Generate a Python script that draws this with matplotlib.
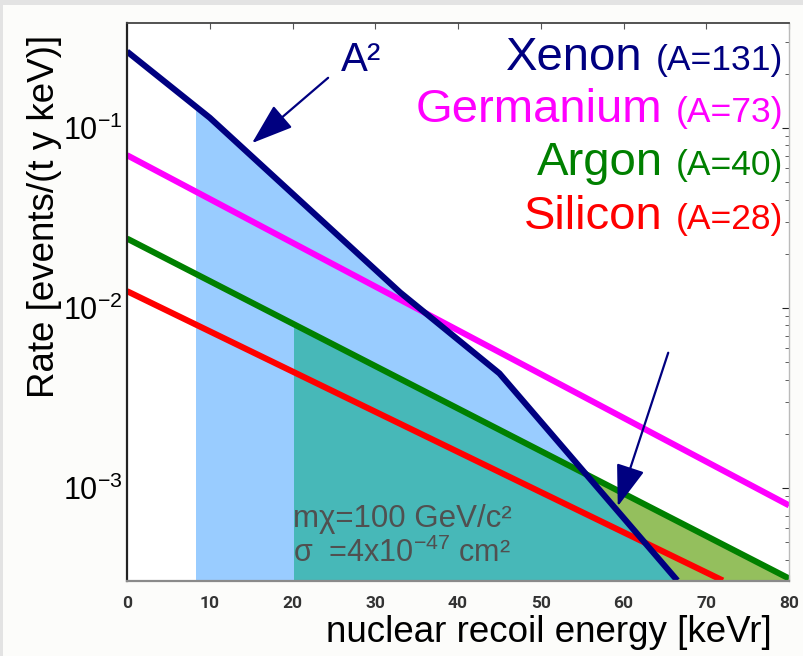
import numpy as np
import matplotlib
matplotlib.use("Agg")
import matplotlib.pyplot as plt
from matplotlib.patches import Rectangle
from matplotlib.transforms import Bbox, TransformedBbox
from matplotlib.ticker import NullFormatter

plt.rcParams["font.family"] = ["Liberation Sans", "DejaVu Sans"]
plt.rcParams["mathtext.fontset"] = "custom"
plt.rcParams["mathtext.rm"] = "Liberation Sans"
plt.rcParams["mathtext.it"] = "Liberation Sans:italic"
plt.rcParams["mathtext.bf"] = "Liberation Sans:bold"

# differential rates vs recoil energy (events / t / y / keV)
xenon_E = [0, 10, 33, 45, 66.5]
xenon_R = [0.266, 0.114, 0.0122, 0.00433, 3.06e-4]
germanium_E = [0, 80]
germanium_R = [0.0706, 8.0e-4]
argon_E = [0, 80]
argon_R = [0.0243, 3.14e-4]
silicon_E = [0, 72]
silicon_R = [0.0124, 3.06e-4]

names = ["Xenon", "Germanium", "Argon", "Silicon"]
masses = ["(A=131)", "(A=73)", "(A=40)", "(A=28)"]
colours = ["#000080", "#ff00ff", "#008000", "#ff0000"]

xe_threshold = 8.3
ar_threshold = 20.0

xticks = [0, 10, 20, 30, 40, 50, 60, 70, 80]
yticks = [1e-3, 1e-2, 1e-1]
ytick_labels = [r"$10^{-3}$", r"$10^{-2}$", r"$10^{-1}$"]

y_lo, y_hi = 3.04e-4, 0.383

fig = plt.figure(figsize=(8.04, 6.56), dpi=100)
fig.patch.set_facecolor("#e3e3e3")
fig.add_artist(Rectangle((3 / 804, 0), 1, 651 / 656, transform=fig.transFigure,
                         facecolor="#fcfcfa", edgecolor="none", zorder=-5))

ax = fig.add_axes([0.158, 0.1143, 0.8234, 0.8506])
ax.set_yscale("log")
ax.set_xlim(0, 80)
ax.set_ylim(y_lo, y_hi)


def box(x0, x1):
    return TransformedBbox(Bbox([[x0, y_lo], [x1, y_hi]]), ax.transData)


# shaded regions: xenon window (blue), argon window (olive), overlap (teal)
blue = ax.fill_between(xenon_E, xenon_R, y_lo, color="#99ccff", lw=0, zorder=1)
blue.set_clip_box(box(xe_threshold, 80))

olive = ax.fill_between(argon_E, argon_R, y_lo, color="#94bf5d", lw=0, zorder=2)
olive.set_clip_box(box(ar_threshold, 80))

teal = ax.fill_between(xenon_E, xenon_R, y_lo, color="#47b8b8", lw=0, zorder=3)
teal.set_clip_path(olive.get_paths()[0], transform=ax.transData)

# below the argon threshold only the xenon window is shaded
blue_low = ax.fill_between(xenon_E, xenon_R, y_lo, color="#99ccff", lw=0, zorder=4)
blue_low.set_clip_box(box(xe_threshold, ar_threshold))
ax.axvspan(0, xe_threshold, color="white", lw=0, zorder=4)

lw = 4.4
ax.plot(germanium_E, germanium_R, color=colours[1], lw=lw, solid_capstyle="butt", zorder=5)
ax.plot(argon_E, argon_R, color=colours[2], lw=lw, solid_capstyle="butt", zorder=5)
ax.plot(silicon_E, silicon_R, color=colours[3], lw=lw, solid_capstyle="butt", zorder=5)
ax.plot(xenon_E, xenon_R, color=colours[0], lw=lw, solid_capstyle="butt", zorder=6)

arrow = dict(arrowstyle="-|>,head_length=1.3,head_width=0.45", mutation_scale=20,
             lw=1.6, color="#000080", shrinkA=0, shrinkB=0)
ax.annotate("", xy=(15.1, 0.0824), xytext=(24.3, 0.19), arrowprops=arrow, zorder=7)
ax.annotate("", xy=(59.3, 7.9e-4), xytext=(65.4, 0.00564), arrowprops=arrow, zorder=7)
ax.text(25.9, 0.208, "A²", color="#000080", fontsize=29, va="baseline", ha="left", zorder=7)

ax.text(20.1, 6.05e-4, "mχ=100 GeV/c²", color="#505050", fontsize=22.5,
        va="baseline", ha="left", zorder=7)
ax.text(20.1, 3.9e-4, r"σ  =4x10$^{-47}$ cm²", color="#505050", fontsize=22,
        va="baseline", ha="left", zorder=7)

# axes styling
ax.set_xticks(xticks)
ax.set_xticklabels([str(v) for v in xticks], fontfamily="Roboto", fontweight="bold",
                   fontsize=12.5, color="#333333")
ax.set_yticks(yticks)
ax.set_yticklabels(ytick_labels, fontsize=22)
ax.yaxis.set_minor_formatter(NullFormatter())
ax.tick_params(which="both", direction="in", top=True, right=True)
ax.tick_params(axis="x", which="major", length=4, pad=11, color="#555555")
ax.tick_params(axis="y", which="major", length=5, pad=3, color="#222222")
ax.tick_params(axis="y", which="minor", length=3, color="#444444")

ax.spines["left"].set_linewidth(1.6)
ax.spines["left"].set_color("#222222")
ax.spines["bottom"].set_linewidth(1.6)
ax.spines["bottom"].set_color("#8a8a8a")
ax.spines["top"].set_linewidth(1.3)
ax.spines["top"].set_color("#444444")
ax.spines["right"].set_linewidth(1.0)
ax.spines["right"].set_color("#bbbbbb")
for s in ax.spines.values():
    s.set_zorder(8)

ax.set_ylabel("Rate [events/(t y keV)]", fontsize=26.5)
ax.yaxis.set_label_coords(-0.125, 0.654)
ax.yaxis.label.set_verticalalignment("center")
ax.set_xlabel("nuclear recoil energy [keVr]", fontsize=26.5)
ax.xaxis.set_label_coords(0.6375, -0.0914)
ax.xaxis.label.set_verticalalignment("center")

# element labels, big name followed by mass number
fig.canvas.draw()
renderer = fig.canvas.get_renderer()
baselines = [0.9158, 0.8226, 0.7276, 0.6308]
for name, mass, col, yb in zip(names, masses, colours, baselines):
    t = ax.text(0.991, yb, mass, color=col, fontsize=25.5, ha="right", va="baseline",
                transform=ax.transAxes, zorder=9)
    bb = t.get_window_extent(renderer)
    x0 = ax.transAxes.inverted().transform((bb.x0 - 13, 0))[0]
    ax.text(x0, yb, name, color=col, fontsize=34, ha="right", va="baseline",
            transform=ax.transAxes, zorder=9)

fig.savefig("out.png", dpi=100, facecolor=fig.get_facecolor())
